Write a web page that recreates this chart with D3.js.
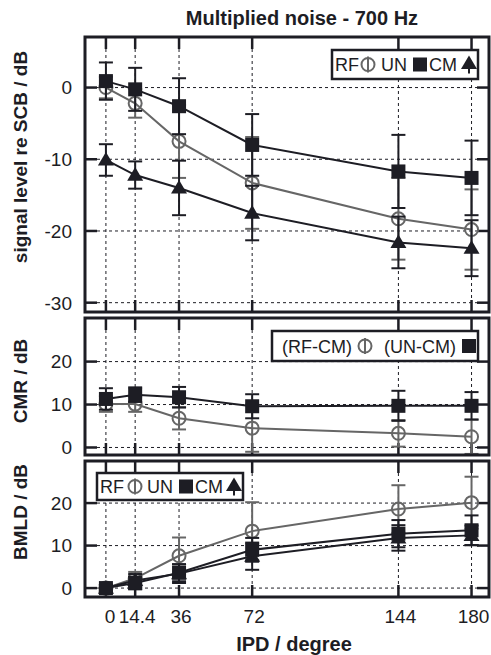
<!DOCTYPE html>
<html>
<head>
<meta charset="utf-8">
<script src="https://cdn.jsdelivr.net/npm/d3@7"></script>
<style>
  html, body { margin: 0; padding: 0; background: #fff; }
  svg { display: block; font-family: "Liberation Sans", Arial, Helvetica, sans-serif; }
</style>
</head>
<body>
<svg id="chart" width="491" height="655"></svg>
<script>
// IPD conditions (degrees)
const ipd = [0, 14.4, 36, 72, 144, 180];
const ipdTickLabels = ["0", "14.4", "36", "72", "144", "180"];

// Signal level re SCB (dB), mean and error
const rfLevel = [0, -2.2, -7.5, -13.3, -18.3, -19.8];
const rfLevelErr = [1.5, 2.0, 5.1, 6.4, 5.7, 5.6];
const unLevel = [0.9, -0.25, -2.6, -8.0, -11.7, -12.6];
const unLevelErr = [2.6, 3.0, 3.9, 4.3, 5.1, 5.2];
const cmLevel = [-10.1, -12.2, -14.0, -17.5, -21.6, -22.4];
const cmLevelErr = [2.2, 1.9, 3.8, 3.8, 3.6, 3.9];

// Comodulation masking release (dB)
const cmrRf = [10.1, 10.1, 6.8, 4.5, 3.3, 2.5];
const cmrRfErr = [1.8, 1.8, 2.6, 5.5, 3.1, 4.0];
const cmrUn = [11.3, 12.3, 11.7, 9.6, 9.7, 9.7];
const cmrUnErr = [2.5, 1.7, 2.4, 2.8, 3.5, 3.2];

// Binaural masking level difference (dB)
const bmldRf = [0, 2.3, 7.6, 13.4, 18.6, 20.1];
const bmldRfErr = [0.8, 1.5, 4.3, 6.8, 5.6, 6.1];
const bmldUn = [0, 1.2, 3.6, 9.0, 12.8, 13.6];
const bmldUnErr = [0.8, 1.5, 2.0, 2.8, 3.2, 3.5];
const bmldCm = [0, 1.8, 3.4, 7.5, 11.8, 12.4];
const bmldCmErr = [0.8, 1.5, 2.2, 3.2, 3.0, 2.3];

// Axis ticks
const levelTicks = [0, -10, -20, -30];
const cmrTicks = [0, 10, 20];
const bmldTicks = [0, 10, 20];

const INK = "#1d1d24";
const GREY = "#666666";

const svg = d3.select("#chart");

const x = d3.scaleLinear().domain([-10.3, 188.6]).range([85, 489]);

const panels = [
  {
    y: d3.scaleLinear().domain([-31.3, 7.05]).range([312, 37]),
    ticks: levelTicks,
    title: "signal level re SCB / dB", titleY: 157,
    series: [
      { v: rfLevel, e: rfLevelErr, shape: "circle" },
      { v: unLevel, e: unLevelErr, shape: "square" },
      { v: cmLevel, e: cmLevelErr, shape: "triangle" }
    ],
    legend: { x0: 332, x1: 478, y0: 50, y1: 79, base: 71,
      items: [
        { t: "text", s: "RF", x: 335 }, { t: "circle", x: 368 },
        { t: "text", s: "UN", x: 381 }, { t: "square", x: 420 },
        { t: "text", s: "CM", x: 429 }, { t: "triangle", x: 469 }
      ] }
  },
  {
    y: d3.scaleLinear().domain([-1.75, 30.15]).range([455, 318]),
    ticks: cmrTicks,
    title: "CMR / dB", titleY: 381,
    series: [
      { v: cmrRf, e: cmrRfErr, shape: "circle" },
      { v: cmrUn, e: cmrUnErr, shape: "square" }
    ],
    legend: { x0: 272, x1: 478, y0: 331, y1: 361, base: 353,
      items: [
        { t: "text", s: "(RF-CM)", x: 282 }, { t: "circle", x: 365 },
        { t: "text", s: "(UN-CM)", x: 384 }, { t: "square", x: 469 }
      ] }
  },
  {
    y: d3.scaleLinear().domain([-2.1, 29.9]).range([597, 461]),
    ticks: bmldTicks,
    title: "BMLD / dB", titleY: 512,
    series: [
      { v: bmldRf, e: bmldRfErr, shape: "circle" },
      { v: bmldCm, e: bmldCmErr, shape: "triangle" },
      { v: bmldUn, e: bmldUnErr, shape: "square" }
    ],
    legend: { x0: 97, x1: 243, y0: 473, y1: 500, base: 493,
      items: [
        { t: "text", s: "RF", x: 100 }, { t: "circle", x: 135 },
        { t: "text", s: "UN", x: 147 }, { t: "square", x: 186 },
        { t: "text", s: "CM", x: 195 }, { t: "triangle", x: 234 }
      ] }
  }
];

function drawMarker(g, shape, cx, cy, colour) {
  if (shape === "circle") {
    g.append("circle").attr("cx", cx).attr("cy", cy).attr("r", 6.5)
      .attr("fill", "none").attr("stroke", colour).attr("stroke-width", 2);
  } else if (shape === "square") {
    g.append("rect").attr("x", cx - 7).attr("y", cy - 7).attr("width", 14).attr("height", 14)
      .attr("fill", colour);
  } else {
    const s = 8;
    g.append("path")
      .attr("d", `M${cx},${cy - s} L${cx + s},${cy + s * 0.7} L${cx - s},${cy + s * 0.7} Z`)
      .attr("fill", colour);
  }
}

const tickLen = 12;

panels.forEach(p => {
  const g = svg.append("g");
  const [yb, yt] = p.y.range();
  const [xl, xr] = x.range();

  // dashed grid
  g.selectAll(".vg").data(ipd).join("line")
    .attr("x1", d => x(d)).attr("x2", d => x(d))
    .attr("y1", yt).attr("y2", yb)
    .attr("stroke", INK).attr("stroke-width", 1).attr("stroke-dasharray", "3,3");
  g.selectAll(".hg").data(p.ticks).join("line")
    .attr("x1", xl).attr("x2", xr)
    .attr("y1", d => p.y(d)).attr("y2", d => p.y(d))
    .attr("stroke", INK).attr("stroke-width", 1).attr("stroke-dasharray", "3,3");

  // inward ticks on all four sides
  const tk = g.append("g").attr("stroke", INK).attr("stroke-width", 2.5);
  ipd.forEach(d => {
    tk.append("line").attr("x1", x(d)).attr("x2", x(d)).attr("y1", yt).attr("y2", yt + tickLen);
    tk.append("line").attr("x1", x(d)).attr("x2", x(d)).attr("y1", yb).attr("y2", yb - tickLen);
  });
  p.ticks.forEach(d => {
    tk.append("line").attr("x1", xl).attr("x2", xl + tickLen).attr("y1", p.y(d)).attr("y2", p.y(d));
    tk.append("line").attr("x1", xr).attr("x2", xr - tickLen).attr("y1", p.y(d)).attr("y2", p.y(d));
  });

  // y tick labels
  g.selectAll(".yl").data(p.ticks).join("text")
    .attr("x", 72).attr("y", d => p.y(d)).attr("dy", "0.36em")
    .attr("text-anchor", "end").attr("font-size", 19).attr("fill", INK)
    .text(d => d);

  // y axis title
  g.append("text")
    .attr("transform", `translate(27,${p.titleY}) rotate(-90)`)
    .attr("text-anchor", "middle").attr("font-size", 19).attr("font-weight", "bold")
    .attr("fill", INK).text(p.title);

  // data series
  p.series.forEach(s => {
    const colour = s.shape === "circle" ? GREY : INK;
    const sg = g.append("g");
    const line = d3.line().x((d, i) => x(ipd[i])).y(d => p.y(d));
    sg.append("path").datum(s.v).attr("d", line)
      .attr("fill", "none").attr("stroke", colour).attr("stroke-width", 2);
    s.v.forEach((v, i) => {
      const cx = x(ipd[i]);
      const yHi = p.y(v + s.e[i]), yLo = p.y(v - s.e[i]);
      sg.append("line").attr("x1", cx).attr("x2", cx).attr("y1", yHi).attr("y2", yLo)
        .attr("stroke", colour).attr("stroke-width", 2);
      [yHi, yLo].forEach(yy => sg.append("line")
        .attr("x1", cx - 7).attr("x2", cx + 7).attr("y1", yy).attr("y2", yy)
        .attr("stroke", colour).attr("stroke-width", 2));
      drawMarker(sg, s.shape, cx, p.y(v), colour);
    });
  });

  // legend
  const L = p.legend;
  const lg = g.append("g");
  lg.append("rect").attr("x", L.x0).attr("y", L.y0)
    .attr("width", L.x1 - L.x0).attr("height", L.y1 - L.y0)
    .attr("fill", "#fff").attr("stroke", INK).attr("stroke-width", 2.5);
  const my = (L.y0 + L.y1) / 2;
  L.items.forEach(it => {
    if (it.t === "text") {
      lg.append("text").attr("x", it.x).attr("y", L.base)
        .attr("font-size", 18).attr("fill", INK).text(it.s);
    } else if (it.t === "circle") {
      lg.append("line").attr("x1", it.x).attr("x2", it.x).attr("y1", my - 8).attr("y2", my + 8)
        .attr("stroke", GREY).attr("stroke-width", 2);
      drawMarker(lg, "circle", it.x, my, GREY);
    } else if (it.t === "square") {
      drawMarker(lg, "square", it.x, my, INK);
    } else {
      lg.append("line").attr("x1", it.x).attr("x2", it.x).attr("y1", my).attr("y2", my + 9)
        .attr("stroke", INK).attr("stroke-width", 2);
      drawMarker(lg, "triangle", it.x, my - 1, INK);
    }
  });

  // frame
  g.append("rect").attr("x", xl).attr("y", yt)
    .attr("width", xr - xl).attr("height", yb - yt)
    .attr("fill", "none").attr("stroke", INK).attr("stroke-width", 3);
});

// x tick labels
svg.selectAll(".xl").data(ipd).join("text")
  .attr("x", (d, i) => x(d) + (i === 0 ? 4 : 2)).attr("y", 623)
  .attr("text-anchor", "middle").attr("font-size", 19).attr("fill", INK)
  .text((d, i) => ipdTickLabels[i]);

// x axis title
svg.append("text").attr("x", 294).attr("y", 651)
  .attr("text-anchor", "middle").attr("font-size", 20).attr("font-weight", "bold")
  .attr("fill", INK).text("IPD / degree");

// chart title
svg.append("text").attr("x", 302).attr("y", 25)
  .attr("text-anchor", "middle").attr("font-size", 20).attr("font-weight", "bold")
  .attr("fill", INK).text("Multiplied noise - 700 Hz");
</script>
</body>
</html>
